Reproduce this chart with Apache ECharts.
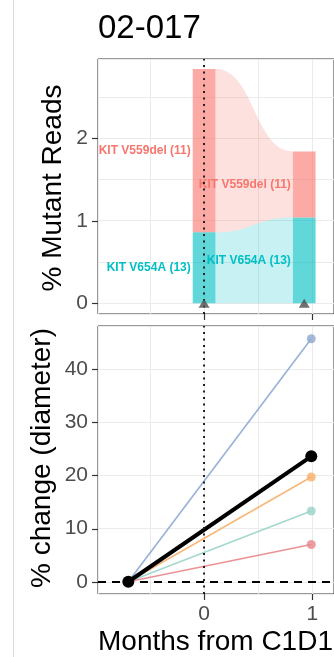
<!DOCTYPE html>
<html>
<head>
<meta charset="utf-8">
<script src="https://cdn.jsdelivr.net/npm/echarts@6/dist/echarts.min.js"></script>
<style>
  html, body { margin: 0; padding: 0; background: #fff; }
  #chart { width: 334px; height: 657px; }
</style>
</head>
<body>
<div id="chart"></div>
<script>
// Patient 02-017: ctDNA mutant read fractions (top) and tumour size change (bottom)
const patientId = '02-017';

// ctDNA samples (months from C1D1) and % mutant reads per mutation
const sampleMonths = [0, 0.925];
const v654aReads = [0.86, 1.04];
const v559delReads = [1.98, 0.80];
const mutationNames = ['KIT V654A (13)', 'KIT V559del (11)'];
const mutationColors = ['#00BFC4', '#F8766D'];

// Imaging scans (months from C1D1) and % change in diameter per lesion
const scanMonths = [-0.7, 0.99];
const lesionBlue = [0, 45.7];
const lesionOrange = [0, 19.7];
const lesionTeal = [0, 13.3];
const lesionRed = [0, 7.0];
const sumOfDiameters = [0, 23.6];

// Tick values
const monthTicks = [0, 1];
const readsTicks = [0, 1, 2];
const changeTicks = [0, 10, 20, 30, 40];

const FONT = '"Liberation Sans", Arial, Helvetica, sans-serif';
const STRATUM_WIDTH = 0.21; // bar width in months
const TICK_LEN = 6;

const layers = [v654aReads, v559delReads];

// Stacked strata: [month, bottom, top, layer]
const strata = [];
sampleMonths.forEach((m, i) => {
  let base = 0;
  layers.forEach((vals, k) => {
    strata.push([m, base, base + vals[i], k]);
    base += vals[i];
  });
});

// Flows between consecutive samples: [m0, a0, a1, m1, b0, b1, layer]
const flows = [];
for (let k = 0; k < layers.length; k++) {
  const s0 = strata.filter(d => d[0] === sampleMonths[0] && d[3] === k)[0];
  const s1 = strata.filter(d => d[0] === sampleMonths[1] && d[3] === k)[0];
  flows.push([s0[0], s0[1], s0[2], s1[0], s1[1], s1[2], k]);
}

function alpha(hex, a) {
  const n = parseInt(hex.slice(1), 16);
  return 'rgba(' + (n >> 16) + ',' + ((n >> 8) & 255) + ',' + (n & 255) + ',' + a + ')';
}

function bezierPts(p0, p3, n) {
  const xm = (p0[0] + p3[0]) / 2;
  const out = [];
  for (let i = 0; i <= n; i++) {
    const t = i / n, u = 1 - t;
    const x = u*u*u*p0[0] + 3*u*u*t*xm + 3*u*t*t*xm + t*t*t*p3[0];
    const y = (u*u*u + 3*u*u*t) * p0[1] + (3*u*t*t + t*t*t) * p3[1];
    out.push([x, y]);
  }
  return out;
}

// Outward tick marks drawn against the grid edges
function yTickSeries(axisIdx, ticks) {
  return {
    type: 'custom', xAxisIndex: axisIdx, yAxisIndex: axisIdx, z: 6, silent: true,
    encode: { x: 0, y: 1 }, data: ticks.map(v => [0, v]),
    renderItem: function (params, api) {
      const y = Math.round(api.coord([api.value(0), api.value(1)])[1]) + 0.5;
      const x = params.coordSys.x;
      return { type: 'line', shape: { x1: x - TICK_LEN, y1: y, x2: x, y2: y },
               style: { stroke: '#333', lineWidth: 1.2 } };
    }
  };
}
function xTickSeries(axisIdx, ticks) {
  return {
    type: 'custom', xAxisIndex: axisIdx, yAxisIndex: axisIdx, z: 6, silent: true,
    encode: { x: 0, y: 1 }, data: ticks.map(v => [v, 0]),
    renderItem: function (params, api) {
      const x = Math.round(api.coord([api.value(0), api.value(1)])[0]) + 0.5;
      const y = params.coordSys.y + params.coordSys.height;
      return { type: 'line', shape: { x1: x, y1: y, x2: x, y2: y + TICK_LEN },
               style: { stroke: '#333', lineWidth: 1.2 } };
    }
  };
}

const gridLine = { show: true, lineStyle: { color: '#EBEBEB', width: 1 } };
const noLine = { show: false };
const labelStyle = { color: '#4D4D4D', fontSize: 21, fontFamily: FONT };

const chart = echarts.init(document.getElementById('chart'), null, { renderer: 'canvas' });

const option = {
  animation: false,
  backgroundColor: '#fff',
  grid: [
    { left: 98, top: 59, width: 240, height: 255, show: true, borderColor: '#333', borderWidth: 1, backgroundColor: 'transparent' },
    { left: 98, top: 326, width: 240, height: 268, show: true, borderColor: '#333', borderWidth: 1, backgroundColor: 'transparent' }
  ],
  xAxis: [
    {
      type: 'value', gridIndex: 0, min: -0.98, max: 1.2,
      axisLine: { show: false, onZero: false }, axisTick: noLine,
      axisLabel: { show: false, customValues: monthTicks },
      splitLine: gridLine
    },
    {
      type: 'value', gridIndex: 1, min: -0.98, max: 1.2,
      axisLine: { show: false, onZero: false }, axisTick: noLine,
      axisLabel: Object.assign({ customValues: monthTicks, margin: 10 }, labelStyle),
      splitLine: gridLine
    }
  ],
  yAxis: [
    {
      type: 'value', gridIndex: 0, min: -0.13, max: 2.96,
      axisLine: { show: false, onZero: false }, axisTick: noLine,
      axisLabel: Object.assign({ customValues: readsTicks, margin: 10 }, labelStyle),
      splitLine: gridLine
    },
    {
      type: 'value', gridIndex: 1, min: -2.3, max: 48.1,
      axisLine: { show: false, onZero: false }, axisTick: noLine,
      axisLabel: Object.assign({ customValues: changeTicks, margin: 10 }, labelStyle),
      splitLine: gridLine
    }
  ],
  graphic: [
    { type: 'line', shape: { x1: 13.5, y1: 0, x2: 13.5, y2: 657 }, style: { stroke: '#DADADA', lineWidth: 1 } },
    { type: 'text', x: 98, y: 29, style: { text: patientId, font: '33px ' + FONT, fill: '#000', align: 'left', verticalAlign: 'middle' } },
    { type: 'text', x: 53, y: 188, rotation: Math.PI / 2, style: { text: '% Mutant Reads', font: '28px ' + FONT, fill: '#000', align: 'center', verticalAlign: 'middle' } },
    { type: 'text', x: 42, y: 458, rotation: Math.PI / 2, style: { text: '% change (diameter)', font: '28px ' + FONT, fill: '#000', align: 'center', verticalAlign: 'middle' } },
    { type: 'text', x: 215.5, y: 642, style: { text: 'Months from C1D1', font: '28px ' + FONT, fill: '#000', align: 'center', verticalAlign: 'middle' } }
  ],
  series: [
    yTickSeries(0, readsTicks),
    xTickSeries(0, monthTicks),
    yTickSeries(1, changeTicks),
    xTickSeries(1, monthTicks),
    // alluvial flows
    {
      type: 'custom', xAxisIndex: 0, yAxisIndex: 0, z: 2,
      encode: { x: [0, 3], y: [1, 2, 4, 5] },
      data: flows,
      renderItem: function (params, api) {
        const half = api.size([STRATUM_WIDTH, 0])[0] / 2;
        const a0 = api.coord([api.value(0), api.value(1)]);
        const a1 = api.coord([api.value(0), api.value(2)]);
        const b0 = api.coord([api.value(3), api.value(4)]);
        const b1 = api.coord([api.value(3), api.value(5)]);
        const top = bezierPts([a1[0] + half, a1[1]], [b1[0] - half, b1[1]], 48);
        const bot = bezierPts([b0[0] - half, b0[1]], [a0[0] + half, a0[1]], 48);
        return {
          type: 'polygon',
          shape: { points: top.concat(bot) },
          style: { fill: alpha(mutationColors[api.value(6)], 0.22) }
        };
      }
    },
    // strata bars with labels
    {
      type: 'custom', xAxisIndex: 0, yAxisIndex: 0, z: 3,
      encode: { x: 0, y: [1, 2] },
      data: strata,
      renderItem: function (params, api) {
        const w = api.size([STRATUM_WIDTH, 0])[0];
        const p0 = api.coord([api.value(0), api.value(1)]);
        const p1 = api.coord([api.value(0), api.value(2)]);
        const k = api.value(3);
        return {
          type: 'group',
          children: [
            { type: 'rect', shape: { x: p0[0] - w / 2, y: p1[1], width: w, height: p0[1] - p1[1] },
              style: { fill: alpha(mutationColors[k], 0.62) } },
            { type: 'text', z2: 10, x: p0[0] - w / 2 - 2, y: (p0[1] + p1[1]) / 2,
              style: { text: mutationNames[k], fill: mutationColors[k], font: 'bold 12px ' + FONT,
                       align: 'right', verticalAlign: 'middle' } }
          ]
        };
      }
    },
    // C1D1 reference line and sample markers
    {
      type: 'scatter', xAxisIndex: 0, yAxisIndex: 0, z: 5,
      symbol: 'triangle', symbolSize: [11, 9],
      itemStyle: { color: '#4D4D4D' },
      data: sampleMonths.map(m => [m, 0]),
      markLine: {
        silent: true, symbol: 'none', label: { show: false },
        lineStyle: { color: '#222', width: 2, type: [2, 4.5] },
        data: [{ xAxis: 0 }]
      }
    },
    // reference lines on lower panel
    {
      type: 'line', xAxisIndex: 1, yAxisIndex: 1, z: 1, data: [],
      markLine: {
        silent: true, symbol: 'none', label: { show: false },
        data: [
          { xAxis: 0, lineStyle: { color: '#222', width: 2, type: [2, 4.5] } },
          { yAxis: 0, lineStyle: { color: '#000', width: 1.8, type: [8, 6] } }
        ]
      }
    },
    ...[
      [lesionBlue, '#8DA8D0'],
      [lesionOrange, '#F6B06A'],
      [lesionTeal, '#9AD3C9'],
      [lesionRed, '#E8868B']
    ].map(([vals, c]) => ({
      type: 'line', xAxisIndex: 1, yAxisIndex: 1, z: 3,
      data: scanMonths.map((m, i) => [m, vals[i]]),
      symbol: 'circle', symbolSize: 9,
      lineStyle: { color: c, width: 1.6, opacity: 0.9 },
      itemStyle: { color: c, opacity: 0.8 }
    })),
    {
      type: 'line', xAxisIndex: 1, yAxisIndex: 1, z: 4,
      data: scanMonths.map((m, i) => [m, sumOfDiameters[i]]),
      symbol: 'circle', symbolSize: 12,
      lineStyle: { color: '#000', width: 4 },
      itemStyle: { color: '#000' }
    }
  ]
};

chart.setOption(option);
</script>
</body>
</html>
